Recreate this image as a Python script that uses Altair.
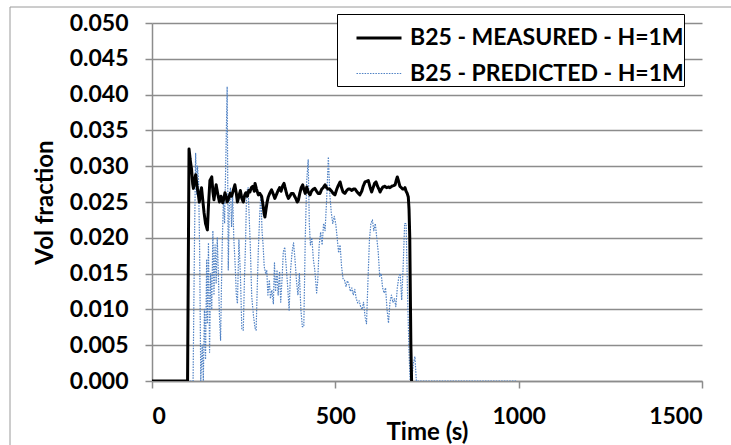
import altair as alt
import pandas as pd

# ---- data ----
S_MEAS = "B25 - MEASURED - H=1M"
S_PRED = "B25 - PREDICTED - H=1M"

meas_t = [0, 50, 97, 101, 104, 108, 111, 113, 116, 119, 122, 126, 129, 132, 135, 138, 142, 146, 151,
          154, 158, 163, 166, 169, 172, 175, 179, 184, 188, 193, 196, 199, 202, 205, 209, 213, 217,
          221, 226, 230, 233, 237, 241, 245, 249, 253, 256, 260, 264, 267, 271, 275, 279, 281, 285,
          290, 294, 299, 303, 306, 308, 311, 314, 317, 321, 326, 330, 335, 339, 344, 348, 352, 356,
          360, 364, 368, 372, 376, 380, 385, 389, 393, 396, 399, 403, 407, 411, 414, 418, 422, 426,
          431, 435, 440, 444, 449, 453, 458, 463, 467, 472, 476, 480, 485, 490, 494, 499, 504, 508,
          513, 517, 521, 526, 531, 535, 540, 545, 549, 554, 558, 563, 567, 572, 576, 581, 586, 590,
          594, 599, 603, 607, 611, 615, 619, 622, 626, 630, 635, 640, 645, 649, 654, 659, 663, 666,
          669, 672, 676, 680, 684, 687, 690, 693, 696, 699, 701, 703, 705, 706, 708]
meas_v = [0, 0, 0, 0.0324, 0.0310, 0.0295, 0.0275, 0.0269, 0.0280, 0.0288, 0.0275, 0.0262, 0.0250,
          0.0262, 0.0270, 0.0255, 0.0235, 0.0220, 0.0211, 0.0245, 0.0280, 0.0285, 0.0265, 0.0253,
          0.0265, 0.0274, 0.0262, 0.0250, 0.0258, 0.0249, 0.0255, 0.0263, 0.0258, 0.0250, 0.0255,
          0.0262, 0.0258, 0.0265, 0.0274, 0.0262, 0.0250, 0.0258, 0.0266, 0.0255, 0.0250, 0.0260,
          0.0263, 0.0258, 0.0266, 0.0264, 0.0270, 0.0272, 0.0265, 0.0276, 0.0268, 0.0260, 0.0262,
          0.0258, 0.0245, 0.0233, 0.0229, 0.0240, 0.0250, 0.0257, 0.0262, 0.0267, 0.0262, 0.0255,
          0.0260, 0.0266, 0.0270, 0.0265, 0.0272, 0.0276, 0.0268, 0.0260, 0.0255, 0.0258, 0.0262,
          0.0262, 0.0258, 0.0254, 0.0250, 0.0252, 0.0262, 0.0270, 0.0274, 0.0268, 0.0262, 0.0271,
          0.0264, 0.0260, 0.0265, 0.0268, 0.0269, 0.0265, 0.0262, 0.0262, 0.0268, 0.0270, 0.0274,
          0.0270, 0.0268, 0.0268, 0.0265, 0.0262, 0.0260, 0.0268, 0.0273, 0.0278, 0.0270, 0.0264,
          0.0262, 0.0266, 0.0268, 0.0268, 0.0266, 0.0268, 0.0268, 0.0265, 0.0262, 0.0260, 0.0265,
          0.0272, 0.0278, 0.0279, 0.0280, 0.0272, 0.0264, 0.0270, 0.0276, 0.0278, 0.0272, 0.0268,
          0.0264, 0.0268, 0.0271, 0.0272, 0.0270, 0.0271, 0.0270, 0.0272, 0.0273, 0.0274, 0.0280,
          0.0285, 0.0280, 0.0272, 0.0270, 0.0268, 0.0268, 0.0270, 0.0265, 0.0262, 0.0257, 0.0240,
          0.0200, 0.0100, 0.0050, 0]

pred_t = [0, 50, 100, 112, 116, 119, 122, 124, 127, 130, 133, 137, 140, 143, 146, 149, 151, 154,
          157, 160, 163, 166, 169, 172, 175, 178, 181, 184, 187, 191, 195, 198, 201, 205, 208, 211,
          214, 217, 220, 223, 227, 230, 233, 237, 241, 245, 249, 252, 255, 258, 262, 265, 268, 272,
          277, 281, 284, 287, 290, 294, 297, 300, 303, 306, 310, 313, 316, 320, 323, 327, 331, 334,
          337, 341, 344, 348, 351, 355, 358, 362, 366, 370, 374, 378, 382, 386, 390, 394, 398, 402,
          406, 410, 414, 418, 422, 426, 429, 432, 436, 440, 444, 449, 452, 456, 460, 464, 468, 472,
          476, 481, 485, 489, 493, 497, 501, 505, 509, 513, 517, 521, 525, 529, 533, 537, 541, 545,
          549, 553, 557, 561, 565, 569, 573, 577, 581, 585, 589, 593, 597, 601, 605, 609, 613, 617,
          621, 625, 629, 633, 637, 641, 645, 649, 653, 657, 661, 665, 669, 673, 677, 681, 685, 689,
          693, 697, 701, 704, 708, 713, 717, 721, 750, 800, 900, 993]
pred_v = [0, 0, 0, 0, 0.020, 0.0318, 0.026, 0.030, 0.028, 0.018, 0, 0.005, 0, 0.010, 0.003, 0.017,
          0.008, 0.0193, 0.004, 0.015, 0.010, 0.021, 0.012, 0.019, 0.0137, 0.020, 0.015, 0.009,
          0.0057, 0.018, 0.0257, 0.022, 0.030, 0.0411, 0.0155, 0.025, 0.027, 0.0215, 0.026, 0.020,
          0.016, 0.012, 0.0108, 0.0197, 0.015, 0.0072, 0.0071, 0.014, 0.019, 0.0264, 0.027, 0.023,
          0.019, 0.0118, 0.009, 0.0074, 0.0071, 0.013, 0.0183, 0.0235, 0.0262, 0.021, 0.019, 0.016,
          0.015, 0.0155, 0.012, 0.0141, 0.0115, 0.0127, 0.0108, 0.0165, 0.0125, 0.0155, 0.012,
          0.0153, 0.0110, 0.0145, 0.018, 0.0187, 0.016, 0.0132, 0.0099, 0.0155, 0.018, 0.0193,
          0.017, 0.014, 0.012, 0.015, 0.010, 0.0076, 0.0076, 0.020, 0.028, 0.0309, 0.022, 0.019,
          0.020, 0.017, 0.0155, 0.0123, 0.0140, 0.019, 0.0208, 0.019, 0.022, 0.021, 0.025, 0.0313,
          0.026, 0.0235, 0.022, 0.023, 0.022, 0.020, 0.0179, 0.019, 0.016, 0.0143, 0.0141, 0.0132,
          0.014, 0.0135, 0.0125, 0.013, 0.0120, 0.0128, 0.0115, 0.0109, 0.0112, 0.0104, 0.0100,
          0.0110, 0.0090, 0.0080, 0.0140, 0.0197, 0.022, 0.0225, 0.021, 0.022, 0.020, 0.018, 0.0146,
          0.015, 0.013, 0.0123, 0.0130, 0.0100, 0.0081, 0.0110, 0.0120, 0.0110, 0.0115, 0.0104,
          0.0130, 0.0145, 0.0150, 0.0113, 0.0160, 0.0220, 0.0220, 0.0120, 0.0040, 0, 0, 0.0025,
          0.0034, 0, 0, 0, 0, 0]

x_ticks = [0, 500, 1000, 1500]
y_ticks = [0, 0.005, 0.01, 0.015, 0.02, 0.025, 0.03, 0.035, 0.04, 0.045, 0.05]

# ---- table ----
df = pd.concat([
    pd.DataFrame({"t": pred_t, "v": pred_v, "series": S_PRED, "k": range(len(pred_t))}),
    pd.DataFrame({"t": meas_t, "v": meas_v, "series": S_MEAS, "k": range(len(meas_t))}),
], ignore_index=True)

FONT = "Lato"
GRAY = "#8c8c8c"
NBSP = "\u00a0" * 4

legend = alt.Legend(
    title=None, orient="none", legendX=185, legendY=-9, direction="vertical",
    fillColor="white", strokeColor="black", padding=0, symbolOffset=18,
    symbolType="stroke", symbolSize=2025, labelFont=FONT, labelFontSize=23,
    labelFontWeight="bold", labelColor="black", labelOffset=7, rowPadding=-13,
    labelLimit=500, labelExpr="datum.label + '" + NBSP + "'",
)

lines = alt.Chart(df).mark_line(clip=True, strokeCap="butt", strokeJoin="round").encode(
    x=alt.X("t:Q", scale=alt.Scale(domain=[0, 1500], nice=False),
            axis=alt.Axis(values=x_ticks, grid=False, title="Time (s)", format="d",
                          titleY=51, titleBaseline="middle")),
    y=alt.Y("v:Q", scale=alt.Scale(domain=[0, 0.05], nice=False),
            axis=alt.Axis(values=y_ticks, format=".3f", grid=True, title="Vol fraction")),
    color=alt.Color("series:N", scale=alt.Scale(domain=[S_MEAS, S_PRED], range=["#000000", "#4f81c4"]),
                    legend=legend),
    strokeDash=alt.StrokeDash("series:N", scale=alt.Scale(domain=[S_MEAS, S_PRED], range=[[1, 0], [1.5, 1.2]]),
                              legend=legend),
    strokeWidth=alt.StrokeWidth("series:N", scale=alt.Scale(domain=[S_MEAS, S_PRED], range=[3, 1.2]),
                                legend=legend),
    detail="series:N",
    order="k:Q",
)

frame = alt.Chart(alt.Data(values=[{}])).mark_rule(color="#9a9a9a", strokeWidth=1, clip=False)
frame_v = frame.encode(x=alt.value(-142), y=alt.value(-16), y2=alt.value(430))
frame_h = frame.encode(x=alt.value(-142), x2=alt.value(600), y=alt.value(-16))

chart = alt.layer(frame_v, frame_h, lines).properties(
    width=550, height=358,
    autosize=alt.AutoSizeParams(type="none"),
    padding={"left": 152, "top": 23, "right": 29, "bottom": 64},
    background="white",
).configure_view(stroke=None).configure_axis(
    labelFont=FONT, labelFontSize=23, labelFontWeight="bold", labelColor="black",
    titleFont=FONT, titleFontSize=24, titleFontWeight="bold", titleColor="black",
    domainColor=GRAY, domainWidth=1.5, tickColor=GRAY, tickWidth=1.5, tickSize=7,
    gridColor=GRAY, gridWidth=1.3,
).configure_axisX(labelPadding=17).configure_axisY(labelPadding=17, titlePadding=12)

chart.save("out.html", embed_options={"renderer": "svg", "actions": False})
